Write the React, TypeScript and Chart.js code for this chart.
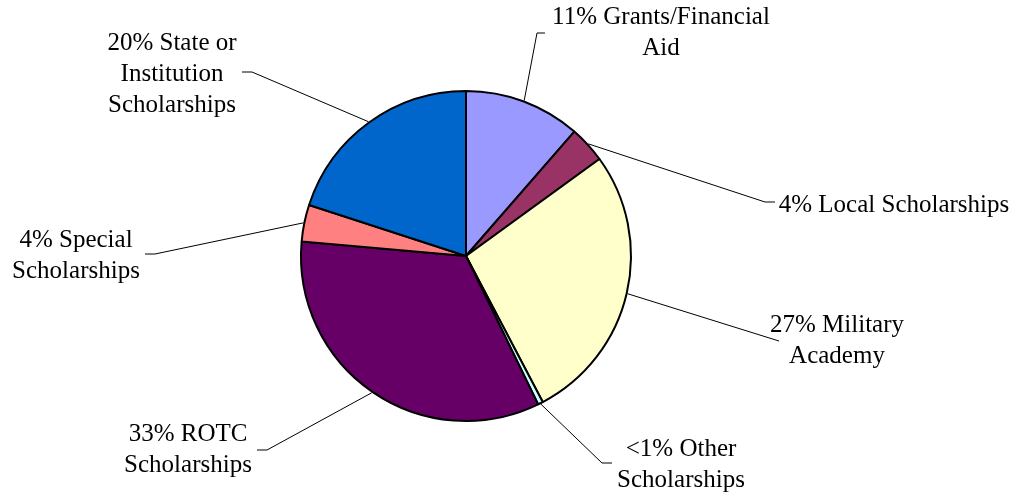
import React, { useEffect, useRef } from "react";
import { Chart, registerables } from "chart.js";

Chart.register(...registerables);

const categories = [
  "Grants/Financial Aid",
  "Local Scholarships",
  "Military Academy",
  "Other Scholarships",
  "ROTC Scholarships",
  "Special Scholarships",
  "State or Institution Scholarships",
];
const values = [11.4, 3.6, 27.3, 0.5, 33.6, 3.6, 20.0];
const labelLines = [
  ["11% Grants/Financial", "Aid"],
  ["4% Local Scholarships"],
  ["27% Military", "Academy"],
  ["<1% Other", "Scholarships"],
  ["33% ROTC", "Scholarships"],
  ["4% Special", "Scholarships"],
  ["20% State or", "Institution", "Scholarships"],
];
const colors = ["#9999FF", "#993366", "#FFFFCC", "#CCFFFF", "#660066", "#FF8080", "#0066CC"];

// label layout: text center x, first line center y, leader elbow and end
const labelLayout = [
  { cx: 661, cy: 17, elbow: [537, 33], end: [545, 33] },
  { cx: 894, cy: 205, elbow: [765, 202], end: [775, 202] },
  { cx: 837, cy: 325, elbow: [779, 341], end: [779, 341] },
  { cx: 681, cy: 449, elbow: [602, 463], end: [612, 463] },
  { cx: 188, cy: 434, elbow: [267, 450], end: [257, 450] },
  { cx: 76, cy: 240, elbow: [155, 254], end: [145, 254] },
  { cx: 172, cy: 43, elbow: [252, 72], end: [242, 72] },
];
const LINE_H = 31;

const labelPlugin = {
  id: "pieLabels",
  afterDraw(chart: any) {
    const ctx = chart.ctx;
    const meta = chart.getDatasetMeta(0);
    ctx.save();
    ctx.strokeStyle = "#000";
    ctx.lineWidth = 1;
    meta.data.forEach((arc: any, i: number) => {
      const p = arc.getProps(["x", "y", "startAngle", "endAngle", "outerRadius"], true);
      const mid = (p.startAngle + p.endAngle) / 2;
      const sx = p.x + Math.cos(mid) * (p.outerRadius + 1);
      const sy = p.y + Math.sin(mid) * (p.outerRadius + 1);
      const L = labelLayout[i];
      ctx.beginPath();
      ctx.moveTo(sx, sy);
      ctx.lineTo(L.elbow[0], L.elbow[1]);
      ctx.lineTo(L.end[0], L.end[1]);
      ctx.stroke();
    });
    ctx.fillStyle = "#000";
    ctx.font = '25px "Liberation Serif", "Times New Roman", serif';
    ctx.textAlign = "center";
    ctx.textBaseline = "middle";
    labelLines.forEach((lines, i) => {
      const L = labelLayout[i];
      lines.forEach((t, j) => ctx.fillText(t, L.cx, L.cy + j * LINE_H));
    });
    ctx.restore();
  },
};

export default function App() {
  const ref = useRef<HTMLCanvasElement>(null);
  useEffect(() => {
    if (!ref.current) return;
    const chart = new Chart(ref.current, {
      type: "pie",
      data: {
        labels: categories,
        datasets: [
          {
            data: values,
            backgroundColor: colors,
            borderColor: "#000",
            borderWidth: 2,
          },
        ],
      },
      options: {
        responsive: false,
        animation: false,
        radius: 165,
        layout: { padding: { left: 300, right: 387, top: 90, bottom: 75 } },
        plugins: {
          legend: { display: false },
          tooltip: { enabled: false },
        },
      } as any,
      plugins: [labelPlugin],
    });
    return () => chart.destroy();
  }, []);
  return (
    <div style={{ position: "absolute", left: 0, top: 0, width: 1019, height: 497, background: "#fff" }}>
      <canvas ref={ref} width={1019} height={497} />
    </div>
  );
}
